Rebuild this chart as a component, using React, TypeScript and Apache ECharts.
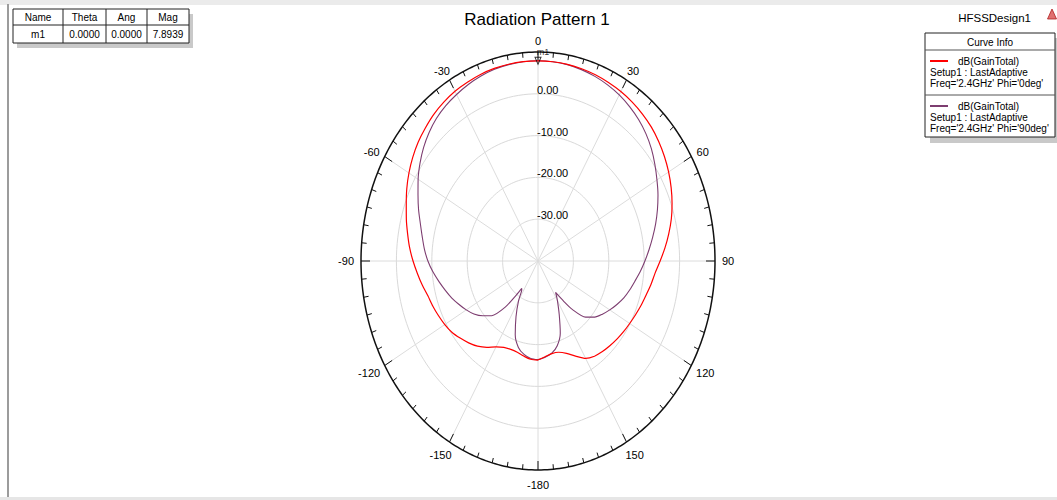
import React, { useEffect, useRef } from "react";
import * as echarts from "echarts";

const FONT = '"Liberation Sans", Arial, sans-serif';

// radial scale (dB)
const R_MIN = -40;
const R_MAX = 10;
const ringValues = [-30, -20, -10, 0];
const ringLabels = ["-30.00", "-20.00", "-10.00", "0.00"];

// angular axis
const angleTicks = [0, 30, 60, 90, 120, 150, 180, 210, 240, 270, 300, 330];
const angleLabels = ["0", "30", "60", "90", "120", "150", "-180", "-150", "-120", "-90", "-60", "-30"];

// dB(GainTotal), Phi = 0deg
const redTheta = [
  -180, -175, -170, -165, -160, -155, -150, -145, -140, -135, -130, -125, -120, -115, -110, -105, -100, -95,
  -90, -85, -80, -75, -70, -65, -60, -55, -50, -45, -40, -35, -30, -25, -20, -15, -10, -5,
  0, 5, 10, 15, 20, 25, 30, 35, 40, 45, 50, 55, 60, 65, 70, 75, 80, 85,
  90, 95, 100, 105, 110, 115, 120, 125, 130, 135, 140, 145, 150, 155, 160, 165, 170, 175, 180,
];
const redDb = [
  -16.3, -16.4, -16.9, -17.4, -17.5, -17.2, -16.3, -14.8, -13.4, -12.3, -11.3, -10.3, -9.6, -9.0, -8.4, -7.8, -6.8, -5.8,
  -4.7, -3.6, -2.6, -1.5, -0.4, 0.9, 2.1, 3.2, 4.2, 5.0, 5.8, 6.4, 6.9, 7.2, 7.5, 7.7, 7.8, 7.87,
  7.89, 7.85, 7.75, 7.6, 7.4, 7.1, 6.8, 6.4, 5.9, 5.3, 4.5, 3.6, 2.6, 1.5, 0.3, -1.0, -2.5, -4.0,
  -5.5, -6.8, -7.6, -8.4, -9.0, -9.6, -10.1, -10.5, -10.9, -11.3, -11.7, -12.2, -13.1, -14.9, -16.5, -17.4, -17.5, -17.0, -16.3,
];

// dB(GainTotal), Phi = 90deg
const purpleTheta = [
  -180, -175, -170, -165, -160, -155, -150, -147, -145, -143, -140, -135, -130, -125, -120, -115, -110, -105, -100, -95,
  -90, -85, -80, -75, -70, -65, -60, -55, -50, -45, -40, -35, -30, -25, -20, -15, -10, -5,
  0, 5, 10, 15, 20, 25, 30, 35, 40, 45, 50, 55, 60, 65, 70, 75, 80, 85,
  90, 95, 100, 105, 110, 115, 120, 125, 130, 135, 140, 143, 146.5, 148, 150, 155, 160, 165, 170, 175, 180,
];
const purpleDb = [
  -16.4, -16.6, -17.3, -18.6, -21.2, -25.3, -29.0, -31.5, -32.0, -29.8, -25.6, -21.5, -19.6, -17.9, -16.6, -15.4, -14.1, -12.9, -11.6, -10.2,
  -8.9, -7.8, -6.8, -5.6, -4.1, -2.6, -0.9, 0.7, 2.2, 3.5, 4.6, 5.4, 6.0, 6.6, 7.1, 7.5, 7.7, 7.85,
  7.89, 7.85, 7.7, 7.4, 7.0, 6.5, 5.9, 5.1, 4.2, 3.1, 1.8, 0.3, -1.2, -2.6, -4.1, -5.6, -7.1, -8.5,
  -9.8, -11.0, -12.2, -13.2, -14.2, -15.4, -16.6, -17.8, -19.1, -21.0, -24.8, -28.0, -31.0, -30.2, -29.0, -25.8, -21.6, -19.0, -17.6, -16.9, -16.4,
];

// marker m1
const markerName = ["m1"];
const markerTheta = [0];
const markerAng = [0];
const markerMag = [7.8939];

const RED = "#ff0000";
const PURPLE = "#7d3d70";
const DEG = Math.PI / 180;
const ROUT = R_MAX - R_MIN;

function toXY(theta: number, db: number): number[] {
  const r = Math.max(0, db - R_MIN);
  return [r * Math.sin(theta * DEG), r * Math.cos(theta * DEG)];
}

function textW(t: string, size: number): number {
  let w = 0;
  for (const ch of t) w += ch === "-" ? 0.333 : ch === "." ? 0.278 : 0.556;
  return w * size;
}

export default function App() {
  const ref = useRef<HTMLDivElement>(null);
  useEffect(() => {
    if (!ref.current) return;
    const chart = echarts.init(ref.current, undefined, { renderer: "svg" });

    const redData = redTheta.map((t, i) => toXY(t, redDb[i]));
    const purpleData = purpleTheta.map((t, i) => toXY(t, purpleDb[i]));
    const markerData = markerTheta.map((t, i) => toXY(t, markerMag[i]));
    const tickAngles: number[][] = [];
    for (let a = 0; a < 360; a += 5) tickAngles.push([a, 0]);

    const txt = (x: number, y: number, text: string, size: number, align = "center", extra: any = {}) => ({
      type: "text",
      x,
      y,
      silent: true,
      style: {
        text,
        font: `${size}px ${FONT}`,
        fill: "#000",
        align,
        verticalAlign: "middle",
        ...extra,
      },
    });
    const hl = (x1: number, y1: number, x2: number, y2: number, stroke = "#222", lineWidth = 1) => ({
      type: "line",
      silent: true,
      shape: { x1, y1, x2, y2 },
      style: { stroke, lineWidth },
    });

    const graphic: any[] = [
      { type: "rect", silent: true, shape: { x: 0, y: 0, width: 1057, height: 5 }, style: { fill: "#ebebeb" } },
      { type: "rect", silent: true, shape: { x: 7, y: 4, width: 2, height: 494 }, style: { fill: "#9c9c9c" } },
      { type: "rect", silent: true, shape: { x: 0, y: 497, width: 1057, height: 3 }, style: { fill: "#e6e6e6" } },
      txt(537, 19, "Radiation Pattern 1", 17),
      txt(1031, 18, "HFSSDesign1", 11.5, "right"),
      {
        type: "polygon",
        silent: true,
        shape: { points: [[1052, 9], [1047.5, 19], [1056.5, 19]] },
        style: { fill: "#e07070", stroke: "#b02020", lineWidth: 0.8 },
      },
      // marker table
      { type: "rect", silent: true, shape: { x: 17, y: 14, width: 176, height: 34 }, style: { fill: "#c9c9c9" } },
      { type: "rect", silent: true, shape: { x: 13, y: 9, width: 176, height: 34 }, style: { fill: "#fff", stroke: "#222", lineWidth: 1 } },
      hl(63, 9, 63, 43),
      hl(106, 9, 106, 43),
      hl(147, 9, 147, 43),
      hl(13, 25, 189, 25),
      txt(38, 17, "Name", 10),
      txt(84.5, 17, "Theta", 10),
      txt(126.5, 17, "Ang", 10),
      txt(168, 17, "Mag", 10),
      txt(38, 34.5, markerName[0], 10),
      txt(84.5, 34.5, markerTheta[0].toFixed(4), 10),
      txt(126.5, 34.5, markerAng[0].toFixed(4), 10),
      txt(168, 34.5, markerMag[0].toFixed(4), 10),
      // curve info legend
      { type: "rect", silent: true, shape: { x: 930, y: 38, width: 130, height: 105 }, style: { fill: "#c9c9c9" } },
      { type: "rect", silent: true, shape: { x: 925, y: 33, width: 130, height: 104 }, style: { fill: "#fff", stroke: "#222", lineWidth: 1 } },
      txt(990, 42, "Curve Info", 10),
      hl(925, 50, 1055, 50, "#555"),
      hl(930, 61, 948, 61, RED, 2),
      txt(958, 61, "dB(GainTotal)", 10, "left"),
      txt(930, 72, "Setup1 : LastAdaptive", 10, "left"),
      txt(930, 83, "Freq='2.4GHz' Phi='0deg'", 10, "left"),
      hl(925, 95, 1055, 95, "#555"),
      hl(930, 106, 948, 106, PURPLE, 2),
      txt(958, 106, "dB(GainTotal)", 10, "left"),
      txt(930, 117, "Setup1 : LastAdaptive", 10, "left"),
      txt(930, 128, "Freq='2.4GHz' Phi='90deg'", 10, "left"),
    ];

    const option: any = {
      animation: false,
      backgroundColor: "#fff",
      grid: { left: 361, top: 52, width: 354, height: 418, show: false },
      xAxis: { type: "value", min: -ROUT, max: ROUT, show: false },
      yAxis: { type: "value", min: -ROUT, max: ROUT, show: false },
      graphic,
      series: [
        {
          type: "custom",
          name: "rings",
          silent: true,
          clip: false,
          data: ringValues.map((v) => [v, 0]),
          renderItem: (params: any, api: any) => {
            const r = api.value(0) - R_MIN;
            const pts: number[][] = [];
            for (let a = 0; a <= 360; a += 2) pts.push(api.coord([r * Math.sin(a * DEG), r * Math.cos(a * DEG)]));
            return { type: "polyline", shape: { points: pts }, style: { stroke: "#d9d9d9", lineWidth: 1, fill: "none" } };
          },
        },
        {
          type: "custom",
          name: "spokes",
          silent: true,
          clip: false,
          data: angleTicks.map((a) => [a, 0]),
          renderItem: (params: any, api: any) => {
            const a = api.value(0) * DEG;
            const c = api.coord([0, 0]);
            const p = api.coord([ROUT * Math.sin(a), ROUT * Math.cos(a)]);
            return { type: "line", shape: { x1: c[0], y1: c[1], x2: p[0], y2: p[1] }, style: { stroke: "#dcdcdc", lineWidth: 1 } };
          },
        },
        {
          type: "custom",
          name: "outer",
          silent: true,
          clip: false,
          data: [[R_MAX, 0]],
          renderItem: (params: any, api: any) => {
            const r = api.value(0) - R_MIN;
            const pts: number[][] = [];
            for (let a = 0; a <= 360; a += 1) pts.push(api.coord([r * Math.sin(a * DEG), r * Math.cos(a * DEG)]));
            return { type: "polyline", shape: { points: pts }, style: { stroke: "#111", lineWidth: 1.5, fill: "none" } };
          },
        },
        {
          type: "custom",
          name: "ticks",
          silent: true,
          clip: false,
          data: tickAngles,
          renderItem: (params: any, api: any) => {
            const deg = api.value(0);
            const a = deg * DEG;
            const c = api.coord([0, 0]);
            const p = api.coord([ROUT * Math.sin(a), ROUT * Math.cos(a)]);
            const dx = p[0] - c[0];
            const dy = p[1] - c[1];
            const L = Math.sqrt(dx * dx + dy * dy);
            const len = deg % 30 === 0 ? 9 : 5;
            return {
              type: "line",
              shape: { x1: p[0], y1: p[1], x2: p[0] - (dx / L) * len, y2: p[1] - (dy / L) * len },
              style: { stroke: "#111", lineWidth: 1 },
            };
          },
        },
        {
          type: "custom",
          name: "angleLabels",
          silent: true,
          clip: false,
          data: angleTicks.map((a) => [a, 0]),
          renderItem: (params: any, api: any) => {
            const deg = api.value(0);
            const label = angleLabels[params.dataIndex];
            const s = Math.sin(deg * DEG);
            const co = Math.cos(deg * DEG);
            const p = api.coord([ROUT * s, ROUT * co]);
            const halfW = textW(label, 11) / 2;
            const ox = s * (7 + halfW);
            const oy = co > 0 ? -co * (8 + 3 * co * co) : -co * 15;
            return {
              type: "text",
              x: p[0] + ox,
              y: p[1] + oy,
              style: { text: label, font: `11px ${FONT}`, fill: "#000", align: "center", verticalAlign: "middle" },
            };
          },
        },
        {
          type: "custom",
          name: "ringLabels",
          silent: true,
          clip: false,
          data: ringValues.map((v) => [v, 0]),
          renderItem: (params: any, api: any) => {
            const r = api.value(0) - R_MIN;
            const p = api.coord([0, r]);
            return {
              type: "text",
              x: p[0] - 1,
              y: p[1] - 4,
              style: { text: ringLabels[params.dataIndex], font: `11px ${FONT}`, fill: "#000", align: "left", verticalAlign: "middle" },
            };
          },
        },
        {
          type: "line",
          name: "Phi='90deg'",
          data: purpleData,
          showSymbol: false,
          smooth: 0.25,
          lineStyle: { color: PURPLE, width: 1.1 },
          itemStyle: { color: PURPLE },
        },
        {
          type: "line",
          name: "Phi='0deg'",
          data: redData,
          showSymbol: false,
          smooth: 0.25,
          lineStyle: { color: RED, width: 1.2 },
          itemStyle: { color: RED },
        },
        {
          type: "scatter",
          name: "m1",
          data: markerData,
          symbol: "triangle",
          symbolRotate: 180,
          symbolSize: [6, 7],
          itemStyle: { color: "rgba(0,0,0,0)", borderColor: "#000", borderWidth: 1 },
          label: {
            show: true,
            position: "top",
            distance: 0,
            offset: [5, 0],
            formatter: markerName[0],
            fontSize: 9,
            fontFamily: FONT,
            color: "#000",
          },
          z: 5,
        },
      ],
    };
    chart.setOption(option);
    return () => chart.dispose();
  }, []);

  return (
    <div
      ref={ref}
      style={{ position: "absolute", left: 0, top: 0, width: 1057, height: 500, background: "#fff" }}
    />
  );
}
